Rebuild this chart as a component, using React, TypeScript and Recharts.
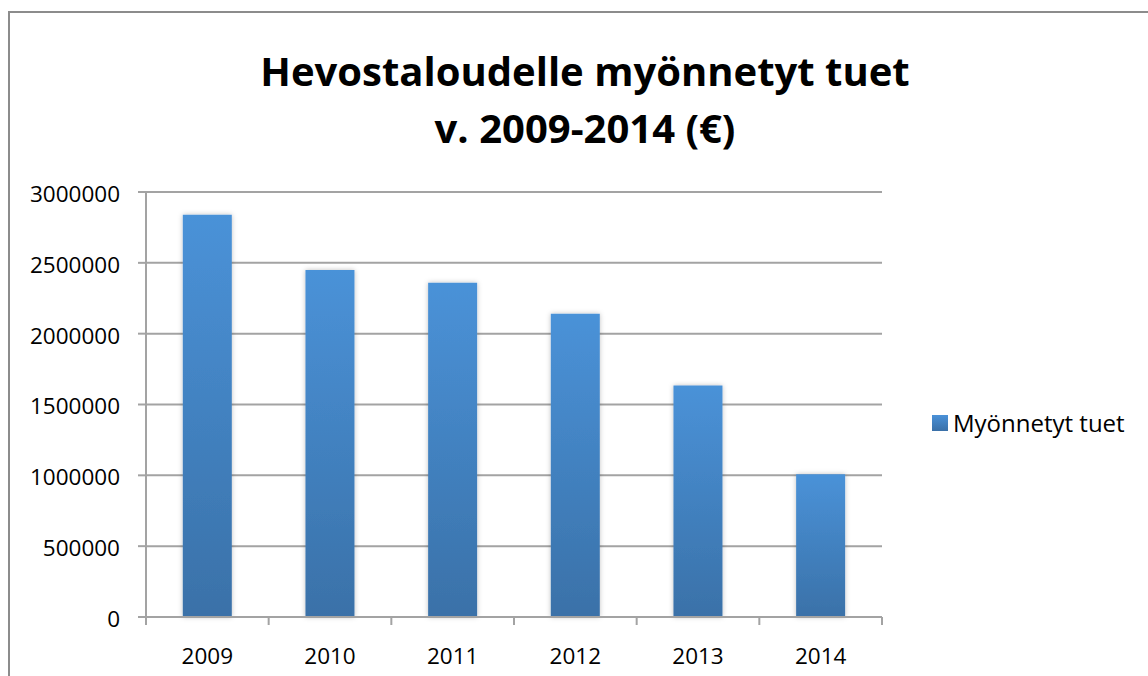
import { BarChart, Bar, XAxis, YAxis, CartesianGrid } from 'recharts';

const years = ['2009', '2010', '2011', '2012', '2013', '2014'];
const tuet = [2840000, 2450000, 2360000, 2140000, 1635000, 1007000];
const yTicks = [0, 500000, 1000000, 1500000, 2000000, 2500000, 3000000];
const seriesName = 'Myönnetyt tuet';
const titleLines = ['Hevostaloudelle myönnetyt tuet', 'v. 2009-2014 (€)'];

const data = years.map((year, i) => ({ year, tuet: tuet[i] }));

const W = 1148;
const H = 676;
const LEFT = 146;
const RIGHT = 266;
const PLOT_W = W - LEFT - RIGHT;
const GRAY = '#a3a3a3';
const FONT = '"Open Sans", sans-serif';
const FS = 22.5;

const XTick = (props: any) => {
  const { x, y, index, payload } = props;
  const band = PLOT_W / years.length;
  return (
    <g>
      <line x1={x - band / 2} x2={x - band / 2} y1={y - 8} y2={y} stroke={GRAY} strokeWidth={2} />
      {index === years.length - 1 && (
        <line x1={x + band / 2} x2={x + band / 2} y1={y - 8} y2={y} stroke={GRAY} strokeWidth={2} />
      )}
      <text x={x} y={y + 39} textAnchor="middle" fill="#000" fontSize={FS} fontFamily={FONT}>
        {payload.value}
      </text>
    </g>
  );
};

export default function App() {
  return (
    <div style={{ position: 'relative', width: W, height: H, overflow: 'hidden', background: '#fff' }}>
      <style>{`body{margin:0}`}</style>
      <div
        style={{
          position: 'absolute',
          left: 8,
          top: 11,
          width: 1300,
          height: 800,
          borderLeft: '2px solid #8c8c8c',
          borderTop: '2px solid #8c8c8c',
        }}
      />
      <div
        style={{
          position: 'absolute',
          left: 0,
          top: 42,
          width: 1170,
          textAlign: 'center',
          fontFamily: FONT,
          fontWeight: 700,
          fontSize: 40,
          lineHeight: '57px',
          color: '#000',
        }}
      >
        {titleLines.map((t) => (
          <div key={t}>{t}</div>
        ))}
      </div>
      <div
        style={{
          position: 'absolute',
          left: 932,
          top: 406,
          display: 'flex',
          alignItems: 'center',
          fontFamily: FONT,
          fontSize: 24,
          color: '#000',
          whiteSpace: 'nowrap',
        }}
      >
        <span
          style={{
            display: 'inline-block',
            width: 16,
            height: 16,
            marginRight: 5,
            background: 'linear-gradient(#4a91d8, #3a70a8)',
          }}
        />
        {seriesName}
      </div>
      <div style={{ position: 'absolute', left: 0, top: 0 }}>
        <BarChart
          width={W}
          height={H}
          data={data}
          margin={{ top: 192, right: RIGHT, left: 0, bottom: 0 }}
          barCategoryGap="30%"
        >
          <defs>
            <linearGradient id="barGrad" x1="0" y1="0" x2="0" y2="1">
              <stop offset="0%" stopColor="#4a92d8" />
              <stop offset="100%" stopColor="#3a71a8" />
            </linearGradient>
            <filter id="barShadow" x="-20%" y="-5%" width="140%" height="110%">
              <feDropShadow dx="0" dy="0" stdDeviation="2.5" floodColor="#000" floodOpacity="0.25" />
            </filter>
          </defs>
          <CartesianGrid vertical={false} stroke={GRAY} strokeWidth={2} />
          <XAxis
            dataKey="year"
            height={59}
            axisLine={{ stroke: GRAY, strokeWidth: 2 }}
            tickLine={false}
            tick={<XTick />}
            interval={0}
          />
          <YAxis
            width={LEFT}
            domain={[0, 3000000]}
            ticks={yTicks}
            interval={0}
            axisLine={{ stroke: GRAY, strokeWidth: 2 }}
            tickLine={{ stroke: GRAY, strokeWidth: 2 }}
            tickSize={8}
            tickMargin={18}
            tick={{ fill: '#000', fontSize: FS, fontFamily: FONT, dy: 2 }}
          />
          <Bar
            dataKey="tuet"
            name={seriesName}
            fill="url(#barGrad)"
            filter="url(#barShadow)"
            isAnimationActive={false}
          />
        </BarChart>
      </div>
    </div>
  );
}
